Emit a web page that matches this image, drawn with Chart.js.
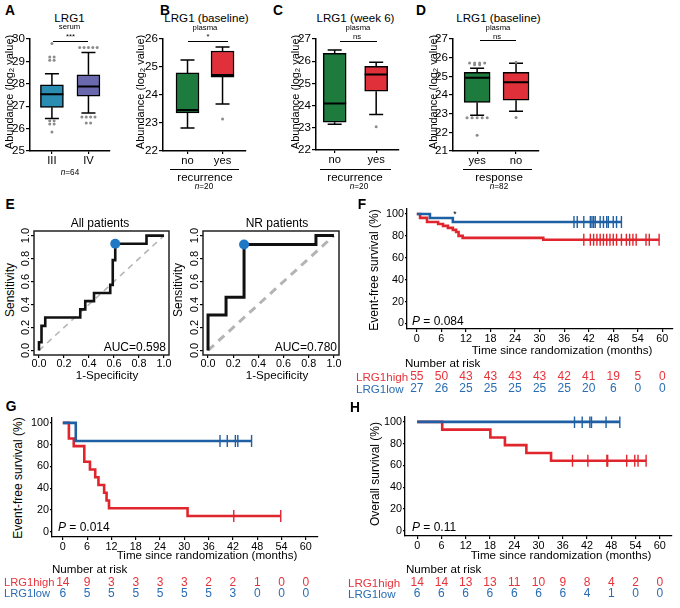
<!DOCTYPE html>
<html>
<head>
<meta charset="utf-8">
<title>LRG1 panels</title>
<script src="https://cdn.jsdelivr.net/npm/chart.js"></script>
<style>
  html, body { margin: 0; padding: 0; background: #fff; }
  body { position: relative; width: 680px; height: 608px; overflow: hidden; }
  canvas { position: absolute; }
  .t { position: absolute; white-space: nowrap; line-height: 1; color: #000; }
  .t sub { font-size: 70%; vertical-align: -0.25em; line-height: 0; }
  .rule { position: absolute; height: 0; border-top: 1px solid #000; }
</style>
</head>
<body>
<script>
// ---------- data ----------
// A: serum LRG1 by stage
var stageCats = ['III', 'IV'];
var serumMin = [26.45, 26.7];
var serumQ1 = [26.95, 27.45];
var serumMed = [27.53, 27.88];
var serumQ3 = [27.95, 28.4];
var serumMax = [28.45, 29.4];
var serumOutIII = [29.8, 29.2, 29.2, 29.05, 29.05, 26.35, 26.35, 26.2, 26.2, 25.85];
var serumOutIV = [29.62, 29.62, 29.62, 29.62, 29.62, 26.52, 26.52, 26.52, 26.52, 26.25, 26.25];

// B: plasma LRG1 at baseline by recurrence
var recCats = ['no', 'yes'];
var baseMin = [22.82, 23.68];
var baseQ1 = [23.36, 24.64];
var baseMed = [23.46, 24.71];
var baseQ3 = [24.79, 25.57];
var baseMax = [25.25, 25.71];
var baseOutNo = [];
var baseOutYes = [23.14];

// C: plasma LRG1 at week 6 by recurrence
var wk6Min = [23.16, 23.6];
var wk6Q1 = [23.25, 24.65];
var wk6Med = [24.1, 25.4];
var wk6Q3 = [26.36, 25.77];
var wk6Max = [26.5, 25.95];
var wk6OutNo = [];
var wk6OutYes = [23.05];

// D: plasma LRG1 at baseline by response
var respCats = ['yes', 'no'];
var respMin = [22.91, 23.13];
var respQ1 = [23.6, 23.72];
var respMed = [24.93, 24.68];
var respQ3 = [25.21, 25.21];
var respMax = [25.43, 25.7];
var respOutYes = [25.72, 25.72, 25.72, 25.72, 25.62, 25.62, 22.78, 22.78, 22.78, 22.78, 22.78, 21.85];
var respOutNo = [25.76, 22.8];

// E: ROC curves
var rocAllFpr = [0, 0, 0.02, 0.05, 0.33, 0.37, 0.44, 0.57, 0.59, 0.61, 0.86, 1];
var rocAllTpr = [0, 0.071, 0.214, 0.286, 0.357, 0.429, 0.5, 0.571, 0.786, 0.929, 1, 1];
var rocAllBest = [0.61, 0.929];
var rocNrFpr = [0, 0, 0.143, 0.286, 0.857, 1];
var rocNrTpr = [0, 0.308, 0.462, 0.923, 1, 1];
var rocNrBest = [0.286, 0.923];
var rocTicks = [0, 0.2, 0.4, 0.6, 0.8, 1];

// F-H: Kaplan-Meier
var riskTimes = [0, 6, 12, 18, 24, 30, 36, 42, 48, 54, 60];
var survTicks = [0, 10, 20, 30, 40, 50, 60, 70, 80, 90, 100];

var efsHighTime = [0, 0.8, 2.5, 5.2, 6.4, 7.6, 8.8, 9.6, 10.2, 11.2, 30.9];
var efsHighSurv = [100, 96.4, 92.7, 90.9, 89.1, 87.3, 85.5, 83.6, 80.0, 78.2, 76.4];
var efsHighCens = [40.8, 42.4, 43.2, 44.0, 44.8, 45.6, 46.4, 47.2, 48.0, 48.8, 50.0, 51.2, 52.0, 52.8, 53.6, 56.0, 56.8, 59.2];
var efsLowTime = [0, 3.2, 8.8];
var efsLowSurv = [100, 96.3, 92.6];
var efsLowCens = [38.4, 39.2, 40.8, 42.4, 42.8, 43.2, 43.6, 44.8, 45.6, 46.4, 46.8, 48.0, 48.8, 50.0];
var efsRiskHigh = [55, 50, 43, 43, 43, 43, 42, 41, 19, 5, 0];
var efsRiskLow = [27, 26, 25, 25, 25, 25, 25, 20, 6, 0, 0];

var nrHighTime = [0, 1.5, 2.7, 5.3, 6.7, 8.0, 8.8, 10.2, 10.8, 11.4, 30.8];
var nrHighSurv = [100, 85.7, 78.6, 64.3, 57.1, 50.0, 42.9, 35.7, 28.6, 21.4, 14.3];
var nrHighCens = [42.2, 53.8];
var nrLowTime = [0, 3.2];
var nrLowSurv = [100, 83.3];
var nrLowCens = [38.8, 40.6, 42.6, 43.2, 46.6];
var nrRiskHigh = [14, 9, 3, 3, 3, 3, 2, 2, 1, 0, 0];
var nrRiskLow = [6, 5, 5, 5, 5, 5, 5, 3, 0, 0, 0];

var osHighTime = [0, 6.2, 18.1, 21.7, 27.0, 33.1];
var osHighSurv = [100, 92.9, 85.7, 78.6, 71.4, 64.3];
var osHighCens = [38.4, 42.2, 46.9, 47.1, 51.8, 53.8, 54.6, 56.6];
var osLowTime = [0];
var osLowSurv = [100];
var osLowCens = [38.9, 40.8, 42.7, 43.1, 46.7, 50.1];
var osRiskHigh = [14, 14, 13, 13, 11, 10, 9, 8, 4, 2, 0];
var osRiskLow = [6, 6, 6, 6, 6, 6, 6, 4, 1, 0, 0];

// ---------- setup ----------
var hasNarrow = (function () {
  var ctx = document.createElement('canvas').getContext('2d');
  ctx.font = '20px monospace';
  var w0 = ctx.measureText('Number at risk 0123').width;
  ctx.font = "20px 'Liberation Sans Narrow', monospace";
  return ctx.measureText('Number at risk 0123').width !== w0;
})();
var FAM_W = "'Liberation Sans', Arial, sans-serif";
var FAM_N = hasNarrow ? "'Liberation Sans Narrow', 'Liberation Sans', Arial, sans-serif" : FAM_W;
function fs(n) { return hasNarrow ? n : Math.round(n * 0.86 * 10) / 10; }

var RED = '#e0303a', GREEN = '#1e7b3e', TEAL = '#2b8db2', PURPLE = '#6b69ad';
var KM_RED = '#e0252d', KM_BLUE = '#1f5fa3', TXT_RED = '#e8333b', TXT_BLUE = '#2a6db3';

Chart.defaults.font.family = FAM_N;
Chart.defaults.color = '#000';
Chart.defaults.animation = false;
Chart.defaults.events = [];
Chart.defaults.plugins.legend.display = false;
Chart.defaults.plugins.tooltip.enabled = false;

function label(html, x, y, o) {
  o = o || {};
  var d = document.createElement('div');
  d.className = 't';
  d.innerHTML = html;
  d.style.left = x + 'px';
  d.style.top = y + 'px';
  d.style.fontFamily = o.wide ? FAM_W : FAM_N;
  d.style.fontSize = (o.wide ? o.size : fs(o.size || 13)) + 'px';
  if (o.bold) d.style.fontWeight = 'bold';
  if (o.color) d.style.color = o.color;
  var ax = o.align === 'left' ? '0' : (o.align === 'right' ? '-100%' : '-50%');
  d.style.transform = 'translate(' + ax + ',-50%)' + (o.rot ? ' rotate(-90deg)' : '');
  document.body.appendChild(d);
}
function rule(x1, x2, y) {
  var d = document.createElement('div');
  d.className = 'rule';
  d.style.left = x1 + 'px';
  d.style.top = y + 'px';
  d.style.width = (x2 - x1) + 'px';
  document.body.appendChild(d);
}
function mount(area, yw, xh, padT, padR) {
  var c = document.createElement('canvas');
  var w = Math.round(yw + area.r - area.l + padR);
  var h = Math.round(padT + area.b - area.t + xh);
  c.width = w; c.height = h;
  c.style.left = (area.l - yw) + 'px';
  c.style.top = (area.t - padT) + 'px';
  c.style.width = w + 'px';
  c.style.height = h + 'px';
  document.body.appendChild(c);
  return c;
}
function axisGrid(len) {
  return { display: true, offset: false, drawOnChartArea: false, drawTicks: true, tickLength: len, color: '#000', lineWidth: 1.2 };
}
function fixedTicks(vals) {
  return function (s) { s.ticks = vals.map(function (v) { return { value: v }; }); };
}
function spread(vals, xi, step) {
  var n = {}, seen = {}, out = [];
  vals.forEach(function (v) { n[v] = (n[v] || 0) + 1; });
  vals.forEach(function (v) {
    var k = seen[v] || 0;
    seen[v] = k + 1;
    out.push({ x: xi + (k - (n[v] - 1) / 2) * step, y: v });
  });
  return out;
}
function range(a, b) { var r = []; for (var v = a; v <= b; v++) r.push(v); return r; }

// ---------- box plots ----------
function boxChart(o) {
  var padT = 10, padR = 4, xh = 24;
  var c = mount(o.area, o.yw, xh, padT, padR);
  var st = o.stats;
  var pts = [];
  o.outliers.forEach(function (vals, i) { pts = pts.concat(spread(vals, i, o.step)); });
  var detail = {
    id: 'boxDetail',
    beforeDatasetsDraw: function (chart) {
      var x = chart.scales.x, y = chart.scales.y, ctx = chart.ctx;
      ctx.save();
      ctx.strokeStyle = '#000';
      ctx.lineWidth = 1.5;
      ctx.beginPath();
      st.min.forEach(function (mn, i) {
        var px = x.getPixelForValue(i);
        var lo = y.getPixelForValue(mn), hi = y.getPixelForValue(st.max[i]);
        ctx.moveTo(px, lo); ctx.lineTo(px, y.getPixelForValue(st.q1[i]));
        ctx.moveTo(px, hi); ctx.lineTo(px, y.getPixelForValue(st.q3[i]));
        ctx.moveTo(px - 7, lo); ctx.lineTo(px + 7, lo);
        ctx.moveTo(px - 7, hi); ctx.lineTo(px + 7, hi);
      });
      ctx.stroke();
      ctx.restore();
    },
    afterDatasetsDraw: function (chart) {
      var x = chart.scales.x, y = chart.scales.y, ctx = chart.ctx;
      ctx.save();
      ctx.strokeStyle = '#000';
      ctx.lineWidth = 2;
      ctx.beginPath();
      st.med.forEach(function (m, i) {
        var px = x.getPixelForValue(i), py = y.getPixelForValue(m);
        ctx.moveTo(px - o.bw / 2, py); ctx.lineTo(px + o.bw / 2, py);
      });
      ctx.stroke();
      ctx.restore();
    }
  };
  return new Chart(c, {
    type: 'bar',
    data: {
      datasets: [{
        type: 'bar',
        data: o.cats.map(function (k, i) { return { x: i, y: [st.q1[i], st.q3[i]] }; }),
        backgroundColor: o.colors,
        borderColor: '#000',
        borderWidth: 1.5,
        borderSkipped: false,
        barThickness: o.bw
      }, {
        type: 'scatter',
        data: pts,
        pointRadius: 1.5,
        pointBackgroundColor: '#8c8c8c',
        pointBorderWidth: 0
      }]
    },
    options: {
      responsive: false,
      layout: { padding: { top: padT, right: padR, left: 0, bottom: 0 } },
      scales: {
        x: {
          type: 'linear', min: o.xr[0], max: o.xr[1], offset: false,
          afterBuildTicks: fixedTicks(o.cats.map(function (k, i) { return i; })),
          afterFit: function (s) { s.height = xh; },
          ticks: { autoSkip: false, maxRotation: 0, padding: 0, font: { size: fs(13) },
                   callback: function (v) { return o.cats[v]; } },
          grid: axisGrid(3),
          border: { display: true, color: '#000', width: 1.5 }
        },
        y: {
          type: 'linear', min: o.yr[0], max: o.yr[1],
          afterBuildTicks: fixedTicks(range(o.yr[0], o.yr[1])),
          afterFit: function (s) { s.width = o.yw; },
          ticks: { padding: 1, font: { size: fs(13.5) } },
          grid: axisGrid(4),
          border: { display: true, color: '#000', width: 1.5 }
        }
      }
    },
    plugins: [detail]
  });
}

boxChart({
  area: { l: 30, t: 39, r: 110, b: 151 }, yw: 30, xr: [-0.6, 1.59], yr: [25, 30], bw: 23, step: 0.12,
  cats: stageCats, colors: [TEAL, PURPLE],
  stats: { min: serumMin, q1: serumQ1, med: serumMed, q3: serumQ3, max: serumMax },
  outliers: [serumOutIII, serumOutIV]
});
boxChart({
  area: { l: 163, t: 39, r: 246, b: 151 }, yw: 28, xr: [-0.7, 1.67], yr: [22, 26], bw: 23, step: 0.12,
  cats: recCats, colors: [GREEN, RED],
  stats: { min: baseMin, q1: baseQ1, med: baseMed, q3: baseQ3, max: baseMax },
  outliers: [baseOutNo, baseOutYes]
});
boxChart({
  area: { l: 316, t: 39, r: 399, b: 150 }, yw: 26, xr: [-0.45, 1.55], yr: [22, 27], bw: 23, step: 0.12,
  cats: recCats, colors: [GREEN, RED],
  stats: { min: wk6Min, q1: wk6Q1, med: wk6Med, q3: wk6Q3, max: wk6Max },
  outliers: [wk6OutNo, wk6OutYes]
});
boxChart({
  area: { l: 453, t: 39, r: 539, b: 151 }, yw: 26, xr: [-0.62, 1.59], yr: [21, 27], bw: 26, step: 0.13,
  cats: respCats, colors: [GREEN, RED],
  stats: { min: respMin, q1: respQ1, med: respMed, q3: respQ3, max: respMax },
  outliers: [respOutYes, respOutNo]
});

// ---------- ROC ----------
var framePlugin = {
  id: 'frame',
  afterDatasetsDraw: function (chart) {
    var a = chart.chartArea, ctx = chart.ctx;
    ctx.save();
    ctx.strokeStyle = '#222';
    ctx.lineWidth = 1.5;
    ctx.strokeRect(a.left, a.top, a.right - a.left, a.bottom - a.top);
    ctx.restore();
  }
};
var rotYPlugin = {
  id: 'rotY',
  afterDraw: function (chart) {
    var y = chart.scales.y, ctx = chart.ctx, x0 = chart.chartArea.left - 8;
    ctx.save();
    ctx.font = '11px ' + FAM_W;
    ctx.fillStyle = '#000';
    ctx.textAlign = 'center';
    ctx.textBaseline = 'middle';
    y.ticks.forEach(function (t) {
      ctx.save();
      ctx.translate(x0, y.getPixelForValue(t.value));
      ctx.rotate(-Math.PI / 2);
      ctx.fillText(t.value.toFixed(1), 0, 0);
      ctx.restore();
    });
    ctx.restore();
  }
};
function rocChart(area, fpr, tpr, best, curveW, diagW, diagDash) {
  var padT = 4, padR = 9, xh = 17, yw = 14;
  var c = mount(area, yw, xh, padT, padR);
  return new Chart(c, {
    type: 'line',
    data: {
      datasets: [{
        type: 'scatter',
        data: [{ x: best[0], y: best[1] }],
        pointRadius: 5,
        pointBackgroundColor: '#1e78c6',
        pointBorderWidth: 0
      }, {
        data: fpr.map(function (v, i) { return { x: v, y: tpr[i] }; }),
        stepped: 'before',
        borderColor: '#111',
        borderWidth: curveW,
        pointRadius: 0,
        fill: false
      }, {
        data: [{ x: 0, y: 0 }, { x: 1, y: 1 }],
        borderColor: '#b4b4b4',
        borderWidth: diagW,
        borderDash: diagDash,
        pointRadius: 0,
        fill: false
      }]
    },
    options: {
      responsive: false,
      layout: { padding: { top: padT, right: padR, left: 0, bottom: 0 } },
      scales: {
        x: {
          type: 'linear', min: -0.04, max: 1.04,
          afterBuildTicks: fixedTicks(rocTicks),
          afterFit: function (s) { s.height = xh; },
          ticks: { autoSkip: false, maxRotation: 0, padding: 0, font: { size: fs(12.5) },
                   callback: function (v) { return v.toFixed(1); } },
          grid: axisGrid(3),
          border: { display: false }
        },
        y: {
          type: 'linear', min: -0.04, max: 1.04,
          afterBuildTicks: fixedTicks(rocTicks),
          afterFit: function (s) { s.width = yw; },
          ticks: { display: false },
          grid: axisGrid(3),
          border: { display: false }
        }
      }
    },
    plugins: [framePlugin, rotYPlugin]
  });
}
rocChart({ l: 34, t: 230, r: 169, b: 355 }, rocAllFpr, rocAllTpr, rocAllBest, 2.6, 1.6, [6, 5]);
rocChart({ l: 203, t: 230, r: 339, b: 355 }, rocNrFpr, rocNrTpr, rocNrBest, 3, 3, [8, 6]);

// ---------- Kaplan-Meier ----------
function survAt(times, surv, t) {
  var s = surv[0];
  times.forEach(function (ti, i) { if (ti <= t) s = surv[i]; });
  return s;
}
function kmChart(area, yw, xr, arms, rows) {
  var padT = 6, padR = 3, xh = 71;
  var c = mount(area, yw, xh, padT, padR);
  var datasets = [];
  arms.forEach(function (a) {
    var end = Math.max.apply(null, a.cens);
    var pts = a.time.map(function (t, i) { return { x: t, y: a.surv[i] }; });
    pts.push({ x: end, y: a.surv[a.surv.length - 1] });
    datasets.push({
      type: 'scatter',
      data: a.cens.map(function (t) { return { x: t, y: survAt(a.time, a.surv, t) }; }),
      pointStyle: 'line', rotation: 90, pointRadius: 6,
      pointBorderColor: a.color, pointBorderWidth: 1.4
    });
    datasets.push({
      data: pts, stepped: 'before', borderColor: a.color, borderWidth: 2.6,
      pointRadius: 0, fill: false
    });
  });
  var risk = {
    id: 'risk',
    afterDraw: function (chart) {
      var x = chart.scales.x, ctx = chart.ctx, b = chart.chartArea.bottom;
      ctx.save();
      ctx.font = fs(14) + 'px ' + FAM_N;
      ctx.textAlign = 'center';
      ctx.textBaseline = 'middle';
      rows.forEach(function (r) {
        ctx.fillStyle = r.color;
        riskTimes.forEach(function (t, i) {
          ctx.fillText(String(r.values[i]), x.getPixelForValue(t), b + r.dy);
        });
      });
      ctx.restore();
    }
  };
  return new Chart(c, {
    type: 'line',
    data: { datasets: datasets },
    options: {
      responsive: false,
      layout: { padding: { top: padT, right: padR, left: 0, bottom: 0 } },
      scales: {
        x: {
          type: 'linear', min: xr[0], max: xr[1],
          afterBuildTicks: fixedTicks(riskTimes),
          afterFit: function (s) { s.height = xh; },
          ticks: { autoSkip: false, maxRotation: 0, padding: 1, font: { size: fs(12.5) } },
          grid: axisGrid(3),
          border: { display: true, color: '#000', width: 1.3 }
        },
        y: {
          type: 'linear', min: -5, max: 105,
          afterBuildTicks: fixedTicks(survTicks),
          afterFit: function (s) { s.width = yw; },
          ticks: { padding: 1, font: { size: fs(12.5) } },
          grid: axisGrid(2),
          border: { display: true, color: '#000', width: 1.3 }
        }
      }
    },
    plugins: [risk]
  });
}
kmChart({ l: 407, t: 207, r: 677, b: 329 }, 52, [-2.4, 62.5], [
  { time: efsLowTime, surv: efsLowSurv, cens: efsLowCens, color: KM_BLUE },
  { time: efsHighTime, surv: efsHighSurv, cens: efsHighCens, color: KM_RED }
], [{ values: efsRiskHigh, color: TXT_RED, dy: 48 }, { values: efsRiskLow, color: TXT_BLUE, dy: 60 }]);
kmChart({ l: 52, t: 416, r: 322, b: 537 }, 24, [-2.67, 62.9], [
  { time: nrLowTime, surv: nrLowSurv, cens: nrLowCens, color: KM_BLUE },
  { time: nrHighTime, surv: nrHighSurv, cens: nrHighCens, color: KM_RED }
], [{ values: nrRiskHigh, color: TXT_RED, dy: 46 }, { values: nrRiskLow, color: TXT_BLUE, dy: 57 }]);
kmChart({ l: 405, t: 415, r: 676, b: 536 }, 50, [-3.0, 62.9], [
  { time: osLowTime, surv: osLowSurv, cens: osLowCens, color: KM_BLUE },
  { time: osHighTime, surv: osHighSurv, cens: osHighCens, color: KM_RED }
], [{ values: osRiskHigh, color: TXT_RED, dy: 47 }, { values: osRiskLow, color: TXT_BLUE, dy: 58 }]);

// ---------- text ----------
[['A', 10, 11], ['B', 165, 11], ['C', 278, 11], ['D', 421, 11],
 ['E', 10, 205], ['F', 362, 205], ['G', 11, 407], ['H', 355, 408]].forEach(function (p) {
  label(p[0], p[1], p[2], { size: 16, bold: true });
});

var yTitle = 'Abundance (log<sub>2</sub> value)';
label('LRG1', 69.5, 17.5, { size: 13.5 });
label('serum', 69.5, 26.5, { size: 9 });
rule(53, 88, 41); label('***', 70.5, 37, { size: 9 });
label(yTitle, 9, 92, { wide: true, size: 11, rot: true });
label('<i>n</i>=64', 70, 173, { size: 9.5 });

label('LRG1 (baseline)', 206.5, 17.5, { size: 13.5 });
label('plasma', 205, 28, { size: 9 });
rule(188, 228, 41); label('*', 208, 37, { size: 9 });
label(yTitle, 140, 92, { wide: true, size: 11, rot: true });
rule(170, 239, 169);
label('recurrence', 205, 176.5, { size: 13.5 });
label('<i>n</i>=20', 204, 187, { size: 9.5 });

label('LRG1 (week 6)', 355.5, 17.5, { size: 13.5 });
label('plasma', 358, 28, { size: 9 });
rule(340, 377, 41); label('ns', 357, 37, { size: 9 });
label(yTitle, 295, 92, { wide: true, size: 11, rot: true });
rule(320, 391, 169);
label('recurrence', 355, 176.5, { size: 13.5 });
label('<i>n</i>=20', 359, 187, { size: 9.5 });

label('LRG1 (baseline)', 498.5, 17.5, { size: 13.5 });
label('plasma', 498, 27.5, { size: 9 });
rule(480, 516, 40); label('ns', 497, 36.5, { size: 9 });
label(yTitle, 433, 92, { wide: true, size: 11, rot: true });
rule(463, 532, 169);
label('response', 499, 176.5, { size: 13.5 });
label('<i>n</i>=82', 499, 187, { size: 9.5 });

label('All patients', 100, 223, { size: 14 });
label('NR patients', 277, 223, { size: 14 });
label('Sensitivity', 10, 290, { wide: true, size: 12, rot: true });
label('Sensitivity', 178, 290, { wide: true, size: 12, rot: true });
label('1-Specificity', 107, 375, { size: 13.5 });
label('1-Specificity', 277, 375, { size: 13.5 });
label('AUC=0.598', 166, 347, { size: 14, align: 'right' });
label('AUC=0.780', 337, 347, { size: 14, align: 'right' });

var xTitle = 'Time since randomization (months)';
label('Event-free survival (%)', 374, 270, { wide: true, size: 12, rot: true });
label(xTitle, 562, 350, { size: 13.5 });
label('Number at risk', 405, 363, { size: 13.5, align: 'left' });
label('LRG1high', 356, 377, { size: 13.5, align: 'left', color: TXT_RED });
label('LRG1low', 356, 389, { size: 13.5, align: 'left', color: TXT_BLUE });
label('<i>P</i> = 0.084', 412, 321, { size: 14, align: 'left' });
label('*', 455, 214, { size: 10 });

label('Event-free survival (%)', 18, 478, { wide: true, size: 12, rot: true });
label(xTitle, 207, 555, { size: 13.5 });
label('Number at risk', 52, 569, { size: 13.5, align: 'left' });
label('LRG1high', 4, 583, { size: 13, align: 'left', color: TXT_RED });
label('LRG1low', 4, 594, { size: 13, align: 'left', color: TXT_BLUE });
label('<i>P</i> = 0.014', 58, 527, { size: 14, align: 'left' });

label('Overall survival (%)', 375, 474, { wide: true, size: 12, rot: true });
label(xTitle, 561, 555, { size: 13.5 });
label('Number at risk', 406, 569, { size: 13.5, align: 'left' });
label('LRG1high', 348, 583, { size: 13.5, align: 'left', color: TXT_RED });
label('LRG1low', 348, 594, { size: 13.5, align: 'left', color: TXT_BLUE });
label('<i>P</i> = 0.11', 412, 527, { size: 14, align: 'left' });
</script>
</body>
</html>
